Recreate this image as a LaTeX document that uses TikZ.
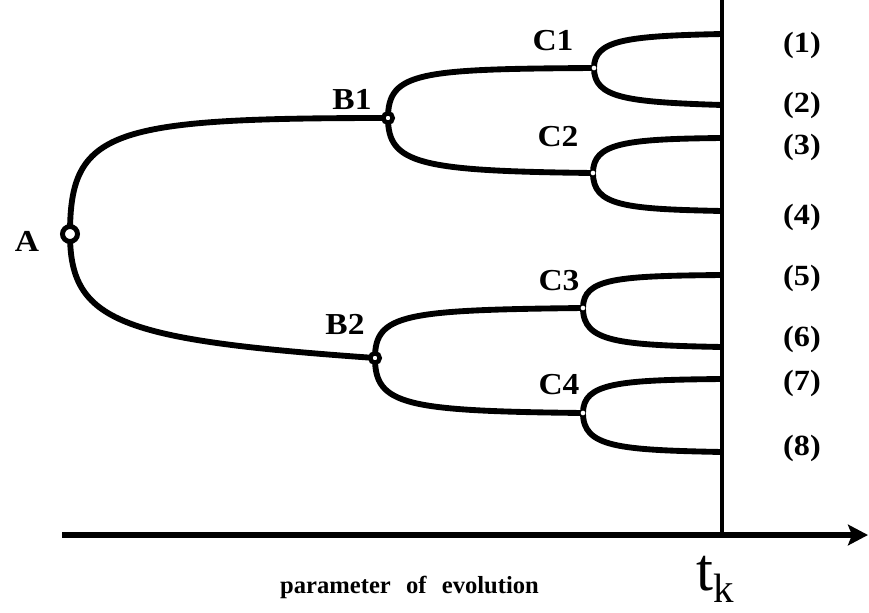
\documentclass[tikz,border=0pt]{standalone}
\usepackage{fontspec}
\usepackage{graphicx}
\setmainfont{Liberation Serif}
\usetikzlibrary{arrows.meta}
\pgfdeclarelayer{bg}\pgfsetlayers{bg,main}
\newcommand\widetext[1]{\scalebox{1.1}[1]{#1}}
\begin{document}
\begin{tikzpicture}[x=0.03cm,y=-0.03cm,
  branch/.style={line width=5pt},
  bignode/.style={circle,draw,fill=white,line width=4.2pt,inner sep=0pt,minimum size=0.45cm},
  midnode/.style={circle,draw,fill=white,line width=3.8pt,inner sep=0pt,minimum size=0.285cm},
  smallnode/.style={circle,fill=white,inner sep=0pt,minimum size=0.14cm},
  lab/.style={font=\fontsize{26}{26}\selectfont\bfseries, inner sep=0pt},
  endlab/.style={font=\fontsize{25}{25}\selectfont\bfseries, inner sep=0pt},
]
\path[use as bounding box] (0,0) rectangle (869,612);

% branch points
\node[bignode] (A) at (70,234) {};
\node[midnode] (B1) at (388,118) {};
\node[midnode] (B2) at (375,358) {};
\node[smallnode] (C1) at (594,68) {};
\node[smallnode] (C2) at (593,173) {};
\node[smallnode] (C3) at (583,308) {};
\node[smallnode] (C4) at (583,413) {};

% leaves and axis points
\coordinate (L1) at (722,34);
\coordinate (L2) at (722,105);
\coordinate (L3) at (722,138);
\coordinate (L4) at (722,211);
\coordinate (L5) at (722,275);
\coordinate (L6) at (722,347);
\coordinate (L7) at (722,379);
\coordinate (L8) at (722,452);
\coordinate (Vtop) at (722,0);
\coordinate (Vbot) at (722,535);
\coordinate (Ax0) at (62,535);
\coordinate (Ax1) at (868,535);

\begin{pgfonlayer}{bg}
\draw[line width=2.6pt] (Vtop) -- (Vbot);
\draw[line width=5.5pt,-{Stealth[length=0.6cm,width=0.62cm,inset=0.12cm]}] (Ax0) -- (Ax1);

\draw[branch] (A.center) .. controls (70,130) and (110,118) .. (B1.center);
\draw[branch] (A.center) .. controls (70,322) and (120,340) .. (B2.center);

\draw[branch] (B1.center) .. controls (388,72) and (420,69) .. (C1.center);
\draw[branch] (B1.center) .. controls (388,164) and (420,171) .. (C2.center);
\draw[branch] (B2.center) .. controls (375,314) and (405,310) .. (C3.center);
\draw[branch] (B2.center) .. controls (375,405) and (405,411) .. (C4.center);

\draw[branch] (C1.center) .. controls (594,40) and (626,36) .. (L1);
\draw[branch] (C1.center) .. controls (594,98) and (626,102) .. (L2);
\draw[branch] (C2.center) .. controls (593,143) and (625,139) .. (L3);
\draw[branch] (C2.center) .. controls (593,206) and (625,209) .. (L4);
\draw[branch] (C3.center) .. controls (583,278) and (618,276) .. (L5);
\draw[branch] (C3.center) .. controls (583,342) and (618,345) .. (L6);
\draw[branch] (C4.center) .. controls (583,383) and (618,380) .. (L7);
\draw[branch] (C4.center) .. controls (583,447) and (618,450) .. (L8);
\end{pgfonlayer}

% labels
\node[lab] (tA) at (27,241) {\widetext{A}};
\node[lab] (tB1) at (352,99) {\widetext{B1}};
\node[lab] (tB2) at (345,324) {\widetext{B2}};
\node[lab] (tC1) at (553,41) {\widetext{C1}};
\node[lab] (tC2) at (558,137) {\widetext{C2}};
\node[lab] (tC3) at (559,281) {\widetext{C3}};
\node[lab] (tC4) at (559,385) {\widetext{C4}};

\node[endlab] (e1) at (802,45) {\widetext{(1)}};
\node[endlab] (e2) at (802,105) {\widetext{(2)}};
\node[endlab] (e3) at (802,147) {\widetext{(3)}};
\node[endlab] (e4) at (802,217) {\widetext{(4)}};
\node[endlab] (e5) at (802,278) {\widetext{(5)}};
\node[endlab] (e6) at (802,339) {\widetext{(6)}};
\node[endlab] (e7) at (802,383) {\widetext{(7)}};
\node[endlab] (e8) at (802,448) {\widetext{(8)}};

\node[anchor=base west, inner sep=0pt, font=\fontsize{21}{21}\selectfont\bfseries] (param) at (280,593) {parameter\hspace{13pt}of\hspace{13pt}evolution};
\node[anchor=base west, inner sep=0pt] (tk) at (696,590) {\fontsize{52}{52}\selectfont t\raisebox{-11pt}{\fontsize{35}{35}\selectfont k}};
\end{tikzpicture}
\end{document}
